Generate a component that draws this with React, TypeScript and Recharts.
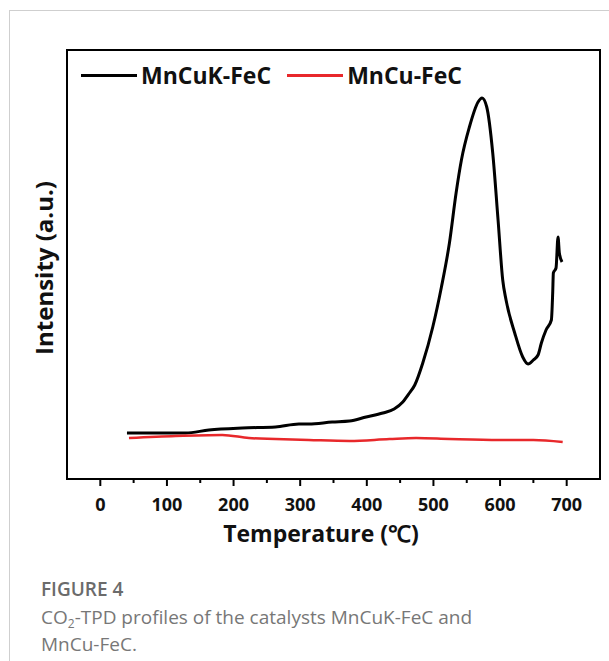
import React from 'react';
import { LineChart, Line, XAxis, YAxis, Label, ReferenceArea } from 'recharts';

// temperatures (℃) and intensities (a.u.)
const mnCuKTemp = [40, 80, 128, 163, 213, 263, 298, 313, 348, 374, 399, 424, 441, 454, 464, 472, 484, 499, 512, 524, 534, 542, 554, 567, 573, 580, 589, 597, 604, 609, 622, 634, 642, 650, 657, 662, 669, 677, 679, 680, 684, 687, 689, 693];
const mnCuKIntensity = [46, 46, 46, 49, 51, 52, 55, 55, 57, 58, 62, 66, 70, 77, 86, 94, 116, 152, 192, 236, 286, 319, 352, 377, 381, 372, 326, 259, 199, 179, 146, 122, 115, 119, 124, 136, 149, 159, 186, 206, 211, 242, 226, 217];

const mnCuTemp = [43, 113, 183, 223, 263, 313, 374, 434, 474, 524, 599, 650, 694];
const mnCuIntensity = [41, 43, 44, 41, 40, 39, 38, 40, 41, 40, 39, 39, 37];

const xTicks = [0, 50, 100, 150, 200, 250, 300, 350, 400, 450, 500, 550, 600, 650, 700];
const xDomain = [-50, 750];
const yDomain = [0, 429];

const series = [
  { name: 'MnCuK-FeC', color: '#000000' },
  { name: 'MnCu-FeC', color: '#e8282b' },
];

const mnCuKData = mnCuKTemp.map((t, i) => ({ t, v: mnCuKIntensity[i] }));
const mnCuData = mnCuTemp.map((t, i) => ({ t, v: mnCuIntensity[i] }));

const FONT = "'Open Sans', sans-serif";

const XTick = (props: any) => {
  const { x, y, payload } = props;
  const major = payload.value % 100 === 0;
  return (
    <g>
      <line x1={x} x2={x} y1={y} y2={y + (major ? 7 : 4)} stroke="#000" strokeWidth={2} />
      {major && (
        <text x={x} y={y + 25} textAnchor="middle" dominantBaseline="central" fontFamily={FONT} fontWeight={700} fontSize={18} fill="#111">
          {payload.value}
        </text>
      )}
    </g>
  );
};

export default function App() {
  return (
    <div style={{ position: 'absolute', left: 0, top: 0, width: 609, height: 661, background: '#fff', overflow: 'hidden' }}>
      <div style={{ position: 'absolute', left: 9, top: 10, right: 0, bottom: 0, borderLeft: '1.5px solid #cfcfcf', borderTop: '1.5px solid #cfcfcf' }} />
      <LineChart width={609} height={661} margin={{ top: 50, right: 9, bottom: 122, left: 66 }}>
        <XAxis
          dataKey="t"
          type="number"
          domain={xDomain}
          ticks={xTicks}
          interval={0}
          height={60}
          tickSize={0}
          tickMargin={0}
          tickLine={false}
          tick={<XTick />}
          axisLine={{ stroke: '#000', strokeWidth: 2 }}
          allowDataOverflow
        >
          <Label
            content={() => (
              <text x={321} y={533} textAnchor="middle" dominantBaseline="central" fontFamily={FONT} fontWeight={700} fontSize={23} fill="#111">
                Temperature (℃)
              </text>
            )}
          />
        </XAxis>
        <YAxis
          yAxisId="left"
          type="number"
          domain={yDomain}
          width={1}
          tick={false}
          tickLine={false}
          axisLine={{ stroke: '#000', strokeWidth: 2 }}
          allowDataOverflow
        >
          <Label
            content={() => (
              <text
                x={43}
                y={268}
                transform="rotate(-90 43 268)"
                textAnchor="middle"
                dominantBaseline="central"
                fontFamily={FONT}
                fontWeight={700}
                fontSize={24}
                fill="#111"
              >
                Intensity (a.u.)
              </text>
            )}
          />
        </YAxis>
        <ReferenceArea
          yAxisId="left"
          x1={xDomain[0]}
          x2={xDomain[1]}
          y1={yDomain[0]}
          y2={yDomain[1]}
          fill="none"
          stroke="#000"
          strokeWidth={2}
          ifOverflow="visible"
        />
        <Line
          yAxisId="left"
          data={mnCuKData}
          dataKey="v"
          name={series[0].name}
          type="monotoneX"
          stroke={series[0].color}
          strokeWidth={3}
          dot={false}
          isAnimationActive={false}
        />
        <Line
          yAxisId="left"
          data={mnCuData}
          dataKey="v"
          name={series[1].name}
          type="monotoneX"
          stroke={series[1].color}
          strokeWidth={2.5}
          dot={false}
          isAnimationActive={false}
        />
      </LineChart>
      <div style={{ position: 'absolute', left: 81, top: 59, height: 32, display: 'flex', alignItems: 'center', fontFamily: FONT, fontWeight: 700, fontSize: 23, color: '#111' }}>
        {series.map((s) => (
          <div key={s.name} style={{ display: 'flex', alignItems: 'center', marginRight: 16 }}>
            <span style={{ display: 'inline-block', width: 56, height: 3, background: s.color, marginRight: 4 }} />
            <span>{s.name}</span>
          </div>
        ))}
      </div>
      <div style={{ position: 'absolute', left: 41, top: 576, fontFamily: FONT, fontWeight: 600, fontSize: 19, color: '#6b6b6b', lineHeight: '26px' }}>
        FIGURE 4
      </div>
      <div style={{ position: 'absolute', left: 41, top: 605, fontFamily: FONT, fontWeight: 400, fontSize: 19, color: '#777', lineHeight: '24px', whiteSpace: 'nowrap' }}>
        CO<sub style={{ fontSize: 12, verticalAlign: 'baseline', position: 'relative', top: 4 }}>2</sub>-TPD profiles of the catalysts MnCuK-FeC and
        <br />
        MnCu-FeC.
      </div>
    </div>
  );
}
